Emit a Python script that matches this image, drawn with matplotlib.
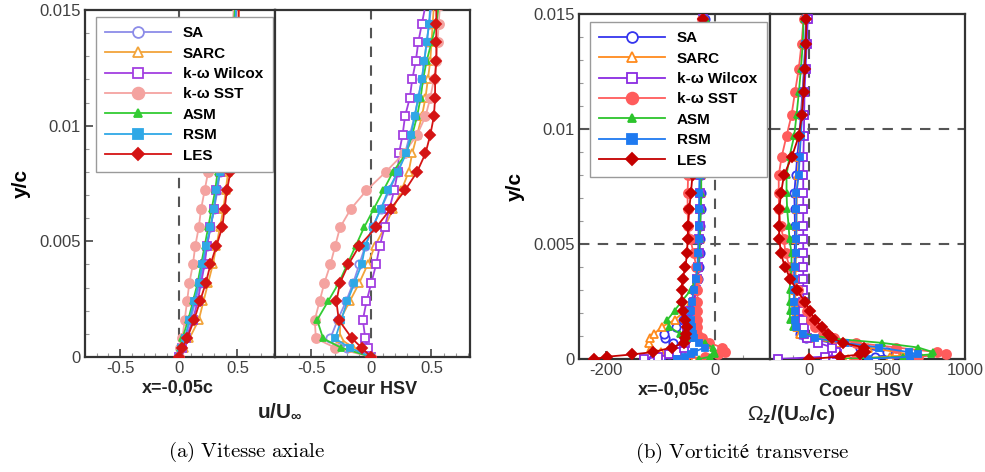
import matplotlib.pyplot as plt
from matplotlib.ticker import MultipleLocator, FuncFormatter

plt.rcParams['font.family'] = ['Liberation Sans', 'DejaVu Sans']
plt.rcParams['mathtext.fontset'] = 'custom'
plt.rcParams['mathtext.rm'] = 'Liberation Sans'
plt.rcParams['mathtext.bf'] = 'Liberation Sans:bold'
plt.rcParams['mathtext.it'] = 'Liberation Sans:italic'

models = ["SA", "SARC", "k-ω Wilcox", "k-ω SST", "ASM", "RSM", "LES"]

# ---------------------------------------------------------------
# (a) vitesse axiale u/Uinf
# ---------------------------------------------------------------
y_a = [0.0, 0.0004, 0.0008, 0.0016, 0.0024, 0.0032, 0.0040, 0.0048, 0.0056, 0.0064, 0.0072,
       0.0080, 0.0088, 0.0096, 0.0104, 0.0112, 0.0120, 0.0128, 0.0136, 0.0144, 0.0152]

# station x=-0,05c
sa_a1 = [0, .02, .05, .10, .14, .18, .21, .24, .27, .30, .33, .35, .38, .40, .42, .44, .45, .46, .47, .48, .49]
sarc_a1 = [0, .04, .09, .17, .21, .25, .29, .32, .35, .38, .40, .42, .44, .46, .47, .48, .49, .50, .50, .51, .51]
wil_a1 = [0, .03, .06, .12, .16, .19, .22, .24, .27, .30, .32, .35, .37, .39, .41, .43, .44, .46, .47, .48, .49]
sst_a1 = [0, .01, .03, .05, .07, .09, .12, .14, .17, .19, .22, .25, .28, .31, .34, .37, .40, .42, .44, .46, .47]
asm_a1 = [0, .01, .03, .08, .12, .16, .19, .22, .25, .28, .31, .33, .36, .38, .40, .42, .44, .45, .46, .47, .48]
rsm_a1 = [0, .02, .05, .09, .13, .17, .20, .23, .27, .30, .32, .35, .37, .39, .41, .43, .45, .46, .47, .48, .49]
les_a1 = [0, .03, .07, .13, .18, .23, .27, .32, .37, .39, .41, .44, .46, .47, .48, .49, .50, .50, .51, .51, .51]

# coeur HSV
sa_a2 = [0, -.20, -.34, -.28, -.21, -.15, -.10, -.05, .01, .08, .15, .22, .28, .32, .36, .39, .42, .44, .46, .48, .50]
sarc_a2 = [0, -.15, -.26, -.26, -.18, -.10, -.03, .03, .11, .18, .25, .31, .34, .38, .42, .45, .47, .49, .50, .51, .52]
wil_a2 = [0, -.03, -.05, -.07, -.04, 0, .04, .07, .11, .15, .19, .22, .23, .26, .28, .32, .34, .37, .39, .42, .45]
sst_a2 = [0, -.30, -.46, -.47, -.43, -.39, -.34, -.30, -.26, -.17, -.04, .12, .27, .38, .45, .49, .52, .54, .55, .56, .57]
asm_a2 = [0, -.25, -.40, -.45, -.36, -.27, -.20, -.13, -.06, .02, .10, .18, .29, .34, .38, .41, .43, .46, .50, .54, .56]
rsm_a2 = [0, -.18, -.30, -.25, -.20, -.14, -.08, -.05, .01, .08, .14, .22, .29, .33, .36, .39, .42, .44, .46, .48, .49]
les_a2 = [0, -.08, -.16, -.27, -.29, -.26, -.19, -.10, .04, .16, .28, .38, .45, .49, .52, .53, .53, .54, .54, .54, .54]

# ---------------------------------------------------------------
# (b) vorticite transverse Omega_z/(Uinf/c)
# ---------------------------------------------------------------
y_b = [0.0, 0.0001, 0.0002, 0.0003, 0.0005, 0.0007, 0.0009, 0.0011, 0.0014, 0.0017,
       0.0021, 0.0025, 0.0030, 0.0035, 0.0040, 0.0046, 0.0052, 0.0058, 0.0065, 0.0072,
       0.0080, 0.0088, 0.0097, 0.0106, 0.0116, 0.0126, 0.0137, 0.0148]

sa_b1 = [-115, -100, -85, -72, -68, -78, -92, -95, -72, -60, -48, -40, -35, -32, -30, -29, -28, -28, -27, -27, -26, -26, -25, -24, -23, -22, -21, -20]
sarc_b1 = [-40, -55, -75, -100, -118, -122, -120, -112, -98, -75, -55, -44, -37, -34, -32, -30, -29, -28, -28, -27, -27, -26, -26, -25, -24, -23, -22, -21]
wil_b1 = [-130, -105, -85, -70, -58, -55, -54, -53, -53, -52, -46, -40, -35, -33, -32, -31, -30, -29, -29, -28, -28, -27, -27, -26, -25, -24, -23, -22]
sst_b1 = [-57, -20, 5, 17, 12, -11, -25, -33, -34, -33, -33, -33, -33, -34, -35, -40, -46, -50, -51, -51, -50, -48, -45, -40, -35, -31, -28, -25]
asm_b1 = [-30, -10, 0, -2, -5, -20, -45, -65, -85, -88, -75, -62, -45, -36, -32, -30, -29, -28, -27, -26, -26, -25, -24, -23, -22, -21, -20, -18]
rsm_b1 = [-70, -55, -45, -39, -20, -30, -40, -42, -43, -44, -44, -43, -40, -36, -33, -32, -31, -31, -30, -30, -29, -28, -27, -26, -25, -24, -23, -22]
les_b1 = [-222, -198, -152, -114, -80, -58, -55, -54, -53, -55, -60, -62, -62, -60, -55, -52, -51, -50, -48, -45, -42, -40, -37, -34, -31, -28, -25, -22]

sa_b2 = [156, 420, 560, 500, 330, 150, -20, -60, -80, -88, -92, -94, -95, -95, -94, -92, -90, -90, -92, -94, -85, -75, -62, -52, -42, -32, -24, -18]
sarc_b2 = [250, 520, 640, 560, 380, 180, 0, -55, -75, -82, -86, -88, -88, -87, -86, -84, -82, -80, -80, -78, -72, -64, -55, -46, -38, -30, -22, -16]
wil_b2 = [-200, 100, 180, 175, 150, 60, -10, -30, -35, -37, -37, -37, -37, -37, -37, -37, -37, -37, -37, -37, -37, -36, -33, -31, -29, -22, -15, -8]
sst_b2 = [300, 700, 880, 820, 560, 300, 160, 90, 40, 10, -15, -40, -70, -100, -125, -150, -162, -182, -192, -194, -194, -175, -144, -112, -90, -66, -48, -35]
asm_b2 = [200, 600, 780, 794, 700, 470, 137, -37, -100, -120, -125, -125, -125, -118, -112, -112, -125, -131, -140, -144, -144, -125, -95, -80, -65, -52, -40, -35]
rsm_b2 = [380, 650, 700, 640, 450, 230, 40, -40, -81, -88, -92, -94, -94, -94, -90, -84, -81, -81, -81, -81, -66, -60, -52, -44, -36, -30, -24, -19]
les_b2 = [0, 200, 330, 356, 350, 220, 150, 120, 85, 40, 5, -25, -80, -120, -155, -180, -190, -192, -190, -180, -160, -110, -65, -45, -35, -28, -20, -17]

# styles
colors_a = ['#8c8ce8', '#f2a43a', '#a23fe0', '#f4a3a0', '#33cc33', '#2fa8e6', '#d41414']
colors_b = ['#3535ee', '#ff8a1c', '#8a2be2', '#ff5c5c', '#2cc42c', '#1f7af0', '#c40000']
markers = ['o', '^', 's', 'o', '^', 's', 'D']
open_mk = [True, True, True, False, False, False, False]
msizes = [6.0, 6.0, 5.5, 6.5, 4.5, 5.0, 5.0]

W, H = 985, 472
fig = plt.figure(figsize=(W / 100, H / 100), dpi=100)


def px_axes(x0, x1, y0, y1):
    return fig.add_axes([x0 / W, 1 - y1 / H, (x1 - x0) / W, (y1 - y0) / H])


def style_ax(ax, xlim, major, minor, show_y):
    ax.set_xlim(*xlim)
    ax.set_ylim(0, 0.015)
    ax.xaxis.set_major_locator(MultipleLocator(major))
    ax.xaxis.set_minor_locator(MultipleLocator(minor))
    ax.xaxis.set_major_formatter(FuncFormatter(lambda v, p: '%g' % v))
    ax.yaxis.set_major_locator(MultipleLocator(0.005))
    ax.yaxis.set_minor_locator(MultipleLocator(0.001))
    ax.yaxis.set_major_formatter(FuncFormatter(lambda v, p: '%g' % v))
    for s in ax.spines.values():
        s.set_color('#333333')
        s.set_linewidth(1.6)
    ax.tick_params(which='major', direction='in', length=6, width=1.2,
                   color='#444444', labelsize=12, labelcolor='#404040', pad=3)
    ax.tick_params(which='minor', direction='in', length=3, width=0.8, color='#999999')
    ax.tick_params(top=False, right=False)
    if not show_y:
        ax.tick_params(axis='y', which='both', left=False, labelleft=False)


def draw(ax, y, series, colors, zorder0=3):
    handles = []
    for i, xs in enumerate(series):
        c = colors[i]
        ln, = ax.plot(xs, y, color=c, lw=1.3, marker=markers[i], ms=msizes[i],
                      mfc='white' if open_mk[i] else c, mec=c, mew=1.3,
                      label=models[i], zorder=zorder0 + i, clip_on=True)
        handles.append(ln)
    return handles


def add_legend(ax, x0, y0, handles):
    leg = ax.legend(handles=handles, loc='upper left',
                    bbox_to_anchor=(x0 / W, 1 - y0 / H), bbox_transform=fig.transFigure,
                    prop={'weight': 'bold', 'size': 11}, frameon=True, fancybox=False,
                    edgecolor='#9a9a9a', framealpha=1, handlelength=4.3,
                    handletextpad=0.8, labelspacing=0.42, borderpad=0.6,
                    borderaxespad=0, markerscale=1.3)
    leg.get_frame().set_linewidth(1.0)
    leg.set_zorder(20)


dash = dict(color='#555555', lw=1.5, ls=(0, (5, 4)), zorder=2)

# ---------------- panel (a) ----------------
ax1 = px_axes(85, 275, 10, 357)
ax2 = px_axes(275, 470, 10, 357)
style_ax(ax1, (-0.8, 0.82), 0.5, 0.1, True)
style_ax(ax2, (-0.8, 0.82), 0.5, 0.1, False)
ax1.axvline(0, **dash)
ax2.axvline(0, **dash)
h = draw(ax1, y_a, [sa_a1, sarc_a1, wil_a1, sst_a1, asm_a1, rsm_a1, les_a1], colors_a)
draw(ax2, y_a, [sa_a2, sarc_a2, wil_a2, sst_a2, asm_a2, rsm_a2, les_a2], colors_a)
add_legend(ax1, 96, 17, h)
ax1.set_ylabel('y/c', fontsize=15, fontweight='bold', labelpad=6)

fig.text(178 / W, 1 - 389 / H, 'x=-0,05c', ha='center', va='center',
         fontsize=13, fontweight='bold', color='#222222')
fig.text(370 / W, 1 - 389 / H, 'Coeur HSV', ha='center', va='center',
         fontsize=13, fontweight='bold', color='#222222')
fig.text(280 / W, 1 - 411 / H, r'$\mathbf{u/U_{\infty}}$', ha='center', va='center',
         fontsize=15, color='#222222')
fig.text(247 / W, 1 - 452 / H, r'$\mathrm{(a)\ Vitesse\ axiale}$', ha='center',
         va='center', fontsize=15, math_fontfamily='cm')

# ---------------- panel (b) ----------------
bx1 = px_axes(579, 770, 14, 359)
bx2 = px_axes(770, 965, 14, 359)
style_ax(bx1, (-250, 100), 200, 50, True)
style_ax(bx2, (-250, 1000), 500, 100, False)
for a in (bx1, bx2):
    a.axvline(0, **dash)
    a.axhline(0.005, **dash)
    a.axhline(0.010, **dash)
h = draw(bx1, y_b, [sa_b1, sarc_b1, wil_b1, sst_b1, asm_b1, rsm_b1, les_b1], colors_b)
draw(bx2, y_b, [sa_b2, sarc_b2, wil_b2, sst_b2, asm_b2, rsm_b2, les_b2], colors_b)
add_legend(bx1, 590, 22, h)
bx1.set_ylabel('y/c', fontsize=15, fontweight='bold', labelpad=6)

fig.text(674 / W, 1 - 391 / H, 'x=-0,05c', ha='center', va='center',
         fontsize=13, fontweight='bold', color='#222222')
fig.text(866 / W, 1 - 391 / H, 'Coeur HSV', ha='center', va='center',
         fontsize=13, fontweight='bold', color='#222222')
fig.text(791 / W, 1 - 414 / H, r'$\Omega_{\mathbf{z}}\mathbf{/(U_{\infty}/c)}$',
         ha='center', va='center', fontsize=15, color='#222222')
fig.text(742 / W, 1 - 453 / H, r'$\mathrm{(b)\ Vorticité\ transverse}$',
         ha='center', va='center', fontsize=15, math_fontfamily='cm')

fig.savefig('out.png', dpi=100)
